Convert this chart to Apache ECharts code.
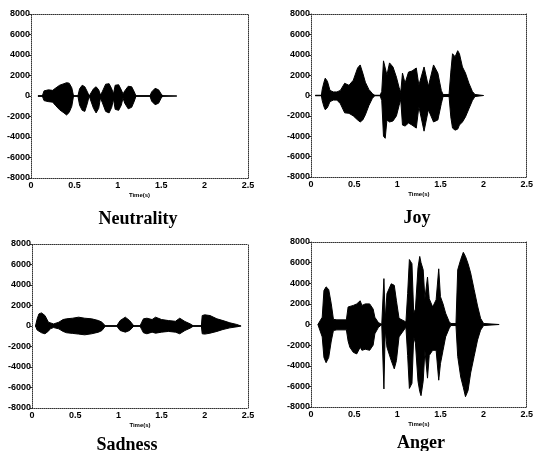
<!DOCTYPE html>
<html>
<head>
<meta charset="utf-8">
<script src="https://cdn.jsdelivr.net/npm/echarts@6/dist/echarts.min.js"></script>
<style>
html, body { margin: 0; padding: 0; background: #fff; }
#chart { width: 536px; height: 451px; }
</style>
</head>
<body>
<div id="chart"></div>
<script>
// axis ticks
var xTicks = [0, 0.5, 1, 1.5, 2, 2.5];
var yTicks = [-8000, -6000, -4000, -2000, 0, 2000, 4000, 6000, 8000];
var xName = 'Time(s)';
var panelNames = ['Neutrality', 'Joy', 'Sadness', 'Anger'];

// envelope of each waveform: time (s), upper and lower amplitude
var neutralityTime  = [0.08, 0.13, 0.15, 0.20, 0.25, 0.28, 0.33, 0.38, 0.41, 0.44, 0.47, 0.49, 0.54, 0.56, 0.59, 0.62, 0.65, 0.67, 0.69, 0.72, 0.75, 0.78, 0.80, 0.82, 0.86, 0.90, 0.93, 0.95, 0.97, 1.01, 1.04, 1.06, 1.08, 1.12, 1.16, 1.19, 1.21, 1.37, 1.39, 1.43, 1.47, 1.50, 1.52, 1.68];
var neutralityUpper = [0, 0, 500, 600, 550, 750, 1050, 1200, 1300, 1250, 800, 0, 0, 700, 1050, 900, 400, 0, 0, 700, 900, 600, 100, 400, 1150, 1200, 700, 200, 1050, 1100, 600, 200, 500, 950, 900, 400, 0, 0, 400, 750, 600, 200, 0, 0];
var neutralityLower = [0, 0, -450, -550, -600, -900, -1350, -1650, -1850, -1600, -1000, 0, 0, -900, -1400, -1500, -700, 0, 0, -1200, -1650, -1200, -200, -600, -1500, -1650, -1100, -300, -1300, -1400, -900, -200, -700, -1250, -1100, -500, 0, 0, -500, -850, -700, -200, 0, 0];

var joyTime  = [0.05, 0.12, 0.13, 0.15, 0.165, 0.19, 0.22, 0.26, 0.30, 0.34, 0.39, 0.44, 0.49, 0.54, 0.57, 0.60, 0.63, 0.67, 0.71, 0.74, 0.80, 0.82, 0.84, 0.86, 0.88, 0.91, 0.95, 0.99, 1.02, 1.04, 1.06, 1.09, 1.13, 1.17, 1.22, 1.25, 1.31, 1.36, 1.42, 1.47, 1.51, 1.53, 1.60, 1.62, 1.64, 1.67, 1.70, 1.72, 1.755, 1.79, 1.83, 1.87, 1.90, 2.0];
var joyUpper = [0, 0, 600, 1300, 1700, 1400, 500, 350, 350, 500, 1200, 1000, 1500, 2700, 3000, 2200, 1300, 600, 200, 0, 0, 400, 3400, 3500, 2000, 3200, 2800, 1800, 800, 300, 2200, 1200, 2300, 2400, 2700, 1000, 2800, 900, 3000, 2200, 500, 100, 100, 2300, 4100, 3800, 4400, 4100, 2800, 2200, 1200, 400, 100, 0];
var joyLower = [0, 0, -500, -1100, -1400, -1200, -600, -450, -450, -800, -1700, -1750, -2000, -2400, -2600, -2400, -1900, -1000, -300, 0, 0, -500, -4000, -4200, -2400, -2600, -2500, -2000, -1000, -400, -2900, -3000, -2700, -2900, -3200, -1100, -3500, -1400, -2600, -2400, -800, -100, -100, -2100, -3200, -3400, -3300, -2900, -2600, -2100, -1300, -500, -100, 0];

var sadnessTime  = [0.04, 0.06, 0.08, 0.11, 0.15, 0.19, 0.21, 0.25, 0.31, 0.36, 0.40, 0.47, 0.54, 0.61, 0.69, 0.77, 0.81, 0.85, 0.98, 1.02, 1.08, 1.13, 1.18, 1.25, 1.27, 1.29, 1.33, 1.39, 1.43, 1.50, 1.58, 1.66, 1.71, 1.77, 1.83, 1.87, 1.96, 1.97, 2.00, 2.06, 2.14, 2.21, 2.29, 2.37, 2.42];
var sadnessUpper = [0, 700, 1180, 1280, 1020, 370, 210, 200, 370, 630, 700, 760, 860, 760, 700, 530, 370, 0, 0, 530, 860, 530, 0, 0, 370, 700, 760, 630, 860, 630, 530, 460, 760, 440, 210, 0, 0, 1020, 1090, 1020, 700, 530, 310, 150, 0];
var sadnessLower = [0, -400, -550, -660, -760, -500, -280, -150, -280, -530, -660, -720, -790, -860, -760, -600, -440, 0, 0, -440, -600, -440, 0, 0, -350, -660, -760, -600, -700, -600, -530, -600, -760, -440, -210, 0, 0, -760, -790, -700, -530, -340, -180, -80, 0];

var angerTime  = [0.08, 0.13, 0.15, 0.175, 0.19, 0.205, 0.235, 0.26, 0.30, 0.41, 0.43, 0.45, 0.49, 0.53, 0.57, 0.59, 0.63, 0.68, 0.72, 0.74, 0.78, 0.82, 0.845, 0.86, 0.88, 0.93, 0.965, 0.99, 1.02, 1.10, 1.12, 1.14, 1.17, 1.19, 1.21, 1.24, 1.26, 1.275, 1.30, 1.32, 1.35, 1.37, 1.41, 1.45, 1.48, 1.50, 1.53, 1.56, 1.60, 1.62, 1.68, 1.70, 1.735, 1.765, 1.79, 1.82, 1.85, 1.89, 1.93, 1.965, 2.00, 2.18];
var angerUpper = [0, 700, 3300, 3650, 3500, 3400, 2000, 500, 450, 450, 1700, 1850, 1850, 2000, 2300, 1850, 2000, 2000, 1500, 700, 200, 0, 4450, 500, 3000, 3950, 3800, 2300, 600, 250, 3000, 6300, 5900, 1100, 1500, 5500, 6600, 6000, 5300, 2500, 4600, 2500, 1700, 2400, 5400, 2700, 2000, 1100, 300, 100, 100, 5300, 6300, 7000, 6600, 5900, 5000, 3400, 1800, 600, 100, 0];
var angerLower = [0, -1200, -3200, -3700, -3800, -3200, -1600, -580, -520, -520, -1600, -2200, -2700, -2850, -2200, -2500, -2400, -2500, -2000, -900, -300, 0, -6250, -500, -2200, -3500, -4300, -3500, -1200, -260, -3000, -6200, -5700, -1200, -1800, -5500, -6500, -6900, -5500, -2500, -5200, -3000, -2500, -2500, -5400, -3800, -2500, -1200, -400, -100, -100, -3100, -5100, -6100, -7000, -6400, -4700, -3100, -1500, -550, -100, 0];

var panelTime  = [neutralityTime, joyTime, sadnessTime, angerTime];
var panelUpper = [neutralityUpper, joyUpper, sadnessUpper, angerUpper];
var panelLower = [neutralityLower, joyLower, sadnessLower, angerLower];

// layout of the four panels (px)
var grids = [
    {left: 31, top: 14, width: 217, height: 164},
    {left: 311, top: 14, width: 217, height: 163},
    {left: 32, top: 244, width: 216, height: 164},
    {left: 311, top: 242, width: 217, height: 165}
];
var titlePos = [
    {x: 133, y: 205},
    {x: 412, y: 204},
    {x: 122, y: 431},
    {x: 416, y: 429}
];

var chart = echarts.init(document.getElementById('chart'));
var dotted = {color: '#333', width: 1, type: 'dotted'};
var labelFont = {color: '#000', fontSize: 9, fontWeight: 'bold', fontFamily: 'Liberation Sans, Arial, sans-serif'};
var plain = function (v) { return String(v); };

var xAxes = [], yAxes = [], series = [], titles = [];
for (var i = 0; i < 4; i++) {
    var xMin = xTicks[0], xMax = xTicks[xTicks.length - 1], xStep = xTicks[1] - xTicks[0];
    var yMin = yTicks[0], yMax = yTicks[yTicks.length - 1], yStep = yTicks[1] - yTicks[0];
    xAxes.push({
        type: 'value', gridIndex: i, min: xMin, max: xMax, interval: xStep,
        name: xName, nameLocation: 'middle', nameGap: 14,
        nameTextStyle: {color: '#000', fontSize: 6, fontWeight: 'bold', fontFamily: 'Liberation Sans, Arial, sans-serif'},
        axisLine: {onZero: false, lineStyle: dotted},
        axisTick: {show: false},
        axisLabel: Object.assign({margin: 3, formatter: plain}, labelFont),
        splitLine: {show: false}
    });
    xAxes.push({
        type: 'value', gridIndex: i, position: 'top', min: xMin, max: xMax,
        axisLine: {onZero: false, lineStyle: dotted},
        axisTick: {show: false}, axisLabel: {show: false}, splitLine: {show: false}
    });
    yAxes.push({
        type: 'value', gridIndex: i, min: yMin, max: yMax, interval: yStep,
        axisLine: {onZero: false, lineStyle: dotted},
        axisTick: {show: true, length: 2, lineStyle: {color: '#333'}},
        axisLabel: Object.assign({margin: 1, formatter: plain}, labelFont),
        splitLine: {show: false}
    });
    yAxes.push({
        type: 'value', gridIndex: i, position: 'right', min: yMin, max: yMax,
        axisLine: {onZero: false, lineStyle: dotted},
        axisTick: {show: false}, axisLabel: {show: false}, splitLine: {show: false}
    });

    var t = panelTime[i];
    var up = t.map(function (v, k) { return [v, panelUpper[i][k]]; });
    var lo = t.map(function (v, k) { return [v, panelLower[i][k]]; });
    // both halves fill a little past zero so no seam shows on the baseline
    [[up, -70], [lo, 70]].forEach(function (p) {
        series.push({
            type: 'line', xAxisIndex: 2 * i, yAxisIndex: 2 * i,
            data: p[0], symbol: 'none', silent: true,
            lineStyle: {color: '#000', width: 1},
            areaStyle: {color: '#000', opacity: 1, origin: p[1]}
        });
    });

    titles.push({
        text: panelNames[i], left: titlePos[i].x, top: titlePos[i].y, textAlign: 'center',
        textStyle: {color: '#000', fontSize: 18, fontWeight: 'bold', fontFamily: 'Liberation Serif, Times New Roman, serif'}
    });
}

chart.setOption({
    animation: false,
    backgroundColor: '#fff',
    title: titles,
    grid: grids,
    xAxis: xAxes,
    yAxis: yAxes,
    series: series
});
</script>
</body>
</html>
